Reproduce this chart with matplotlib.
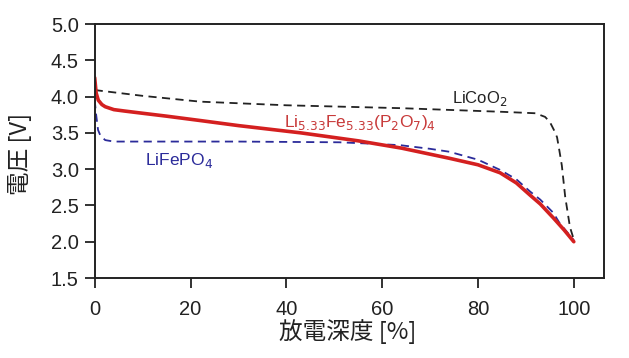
import matplotlib
matplotlib.use("Agg")
import matplotlib.pyplot as plt

# Data
licoo2_x = [0, 10, 22, 40, 64, 85, 92, 94, 95, 96, 96.5, 97, 97.5, 98.2, 99.2, 100]
licoo2_v = [4.09, 4.01, 3.93, 3.88, 3.84, 3.79, 3.77, 3.72, 3.65, 3.52, 3.44, 3.25, 3.05, 2.62, 2.20, 2.03]

lfp_x = [0, 0.3, 0.7, 1.2, 2.2, 4, 10, 30, 51, 58, 63.8, 70, 74, 80, 84.6, 88, 90.9, 93, 95.7, 97, 100]
lfp_v = [3.95, 3.75, 3.54, 3.46, 3.40, 3.38, 3.38, 3.38, 3.37, 3.35, 3.33, 3.28, 3.24, 3.13, 2.99, 2.86, 2.69, 2.58, 2.40, 2.26, 2.02]

lfpo_x = [0, 0.3, 0.75, 1.5, 2.2, 4, 6.3, 10, 15, 22, 30, 43, 55, 64, 74, 80, 84.6, 88, 90.9, 93, 95.7, 98, 100]
lfpo_v = [4.26, 4.05, 3.95, 3.89, 3.86, 3.82, 3.80, 3.77, 3.73, 3.67, 3.60, 3.50, 3.39, 3.29, 3.15, 3.06, 2.95, 2.81, 2.64, 2.52, 2.33, 2.16, 2.00]

x_ticks = [0, 20, 40, 60, 80, 100]
y_ticks = [1.5, 2.0, 2.5, 3.0, 3.5, 4.0, 4.5, 5.0]

plt.rcParams['font.family'] = ['Liberation Sans', 'Noto Sans CJK JP', 'DejaVu Sans']

fig = plt.figure(figsize=(6.29, 3.58), dpi=100)
ax = fig.add_axes([94.7 / 629, 1 - 278 / 358, (604 - 94.7) / 629, (278 - 24) / 358])

ax.plot(licoo2_x, licoo2_v, color='#222222', lw=1.3, dashes=(4.5, 3))
ax.plot(lfp_x, lfp_v, color='#2b2b9a', lw=1.3, dashes=(4.5, 3))
ax.plot(lfpo_x, lfpo_v, color='#d42020', lw=2.6, solid_capstyle='round')

ax.set_xlim(0, 106.3)
ax.set_ylim(1.5, 5.0)
ax.set_xticks(x_ticks)
ax.set_yticks(y_ticks)
ax.set_xticklabels([str(t) for t in x_ticks])
ax.set_yticklabels([f"{t:.1f}" for t in y_ticks])
ax.tick_params(direction='out', length=7.5, width=1.3, labelsize=14.5, colors='#222222')
ax.tick_params(axis='y', pad=4)
ax.tick_params(axis='x', pad=8)
for s in ax.spines.values():
    s.set_linewidth(1.4)
    s.set_color('#222222')

ax.set_ylabel('電圧 [V]', family=['Noto Sans CJK JP'], fontsize=17, color='#222222')
ax.yaxis.set_label_coords(-0.123, 0.49)
ax.set_xlabel('放電深度 [%]', family=['Noto Sans CJK JP'], fontsize=17, color='#222222')
ax.xaxis.set_label_coords(0.497, -0.16)

ax.text(74.5, 3.97, 'LiCoO$_2$', fontsize=12, color='#222222', va='center', ha='left')
ax.text(39.5, 3.64, 'Li$_{5.33}$Fe$_{5.33}$(P$_2$O$_7$)$_4$', fontsize=12.5, color='#c83a3a', va='center', ha='left')
ax.text(10.5, 3.12, 'LiFePO$_4$', fontsize=12.5, color='#2b2b9a', va='center', ha='left')

fig.savefig('out.png', dpi=100)
